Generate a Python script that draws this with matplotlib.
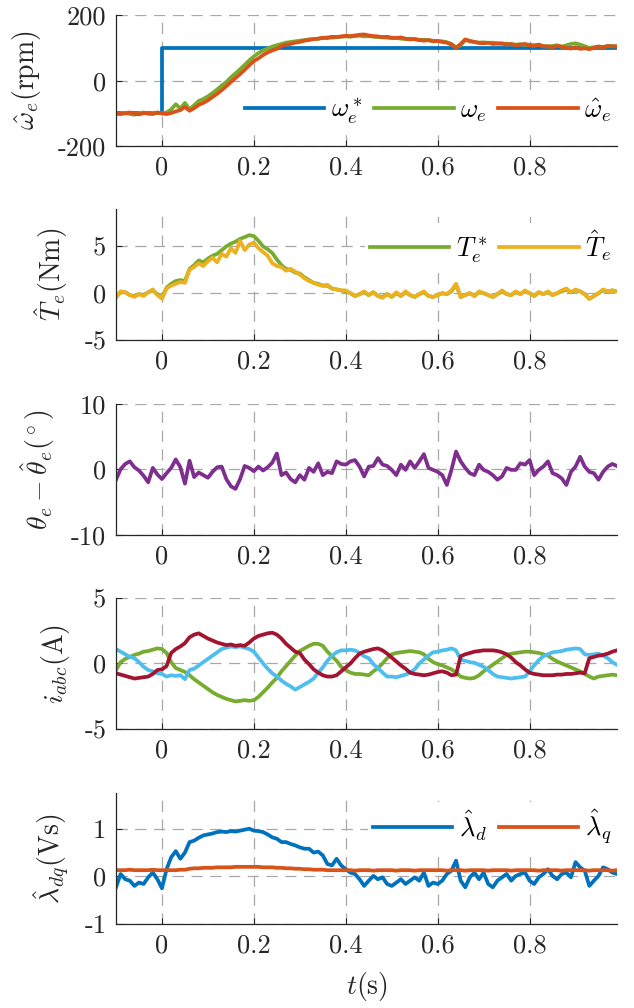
import numpy as np
import matplotlib
matplotlib.use('Agg')
import matplotlib.pyplot as plt

plt.rcParams['font.family'] = 'serif'
plt.rcParams['font.serif'] = ['cmr10']
plt.rcParams['mathtext.fontset'] = 'cm'
plt.rcParams['axes.unicode_minus'] = False
plt.rcParams['axes.formatter.use_mathtext'] = True

# MATLAB default colour order
C_BLUE   = '#0072BD'
C_ORANGE = '#D95319'
C_YELLOW = '#EDB120'
C_PURPLE = '#7E2F8E'
C_GREEN  = '#77AC30'
C_CYAN   = '#4DBEEE'
C_RED    = '#A2142F'
TXT      = '#262626'

# ─────────────────────────────────────────
# DATA  (sample times -0.10 ... 0.99 s, step 0.01)
# ─────────────────────────────────────────
t = np.round(np.arange(-0.10, 0.995, 0.01), 2)

# speed reference step
w_ref_t = [-0.10, 0.0, 0.0, 0.99]
w_ref   = [-100, -100, 100, 100]

w_meas = [-103, -100, -98, -102, -104, -100, -97, -101, -99, -98,
          -100, -97, -88, -72, -85, -68, -88, -75, -62, -56,
          -48, -38, -27, -15, -4, 10, 22, 35, 48, 62,
          74, 84, 92, 98, 104, 108, 112, 116, 118, 120,
          122, 124, 126, 127, 128, 130, 132, 131, 133, 134,
          135, 134, 136, 137, 135, 136, 134, 133, 132, 131,
          130, 131, 128, 127, 128, 126, 124, 125, 123, 122,
          121, 120, 117, 112, 102, 108, 124, 122, 118, 116,
          117, 115, 116, 114, 112, 113, 111, 110, 111, 109,
          110, 108, 109, 106, 104, 106, 108, 103, 108, 112,
          114, 110, 105, 100, 102, 104, 103, 105, 106, 104]

w_est = [-98, -102, -100, -97, -101, -103, -99, -100, -102, -97,
         -100, -102, -99, -94, -90, -80, -92, -84, -74, -68,
         -60, -50, -40, -29, -17, -4, 8, 20, 33, 47,
         60, 68, 78, 86, 92, 97, 106, 110, 112, 116,
         118, 122, 124, 127, 128, 131, 130, 134, 133, 135,
         137, 136, 138, 140, 141, 138, 136, 135, 133, 134,
         131, 130, 132, 128, 126, 127, 124, 122, 124, 120,
         121, 118, 116, 110, 100, 112, 126, 120, 118, 115,
         114, 116, 112, 113, 114, 110, 112, 108, 110, 112,
         108, 106, 110, 104, 105, 102, 106, 104, 100, 98,
         102, 97, 99, 96, 100, 104, 102, 106, 104, 105]

T_ref = [-0.4, 0.1, 0.1, -0.2, -0.3, -0.1, -0.2, 0.1, 0.3, -0.1,
         -0.5, 0.6, 1.0, 1.3, 1.4, 1.3, 2.6, 3.0, 3.5, 3.3,
         3.7, 4.0, 4.2, 4.6, 5.0, 5.3, 5.5, 5.8, 6.0, 6.2,
         6.1, 5.6, 5.0, 4.7, 4.3, 3.6, 3.0, 2.6, 2.5, 2.2,
         2.1, 1.7, 1.4, 1.1, 1.0, 0.8, 0.8, 0.5, 0.4, 0.3,
         0.2, 0.0, -0.3, -0.1, 0.1, -0.2, 0.1, -0.3, -0.4, -0.1,
         -0.4, 0.0, -0.3, 0.1, -0.2, -0.4, -0.1, 0.1, -0.3, -0.4,
         -0.2, 0.0, -0.1, 0.2, 0.9, -0.4, -0.2, 0.0, -0.3, 0.1,
         0.0, -0.2, -0.4, -0.1, 0.2, -0.1, -0.2, 0.1, -0.1, 0.2,
         0.0, -0.3, 0.1, -0.1, 0.1, -0.2, 0.0, 0.2, 0.4, 0.1,
         0.3, 0.2, -0.1, -0.6, -0.3, 0.0, 0.3, 0.2, 0.3, 0.2]

T_est = [-0.5, 0.2, 0.1, -0.2, -0.4, -0.1, -0.3, 0.1, 0.4, -0.2,
         -0.6, 0.5, 0.8, 1.0, 1.2, 1.1, 2.5, 2.8, 3.2, 2.9,
         3.4, 3.8, 3.3, 4.2, 3.9, 4.8, 4.3, 5.6, 4.6, 5.2,
         5.4, 4.8, 4.4, 4.0, 3.2, 2.9, 2.8, 2.4, 2.6, 2.3,
         2.0, 1.6, 1.3, 1.1, 0.9, 0.8, 0.9, 0.5, 0.4, 0.3,
         0.3, 0.0, -0.3, -0.1, 0.2, -0.2, 0.1, -0.3, -0.5, -0.1,
         -0.4, 0.1, -0.3, 0.2, -0.2, -0.4, -0.1, 0.2, -0.3, -0.4,
         -0.2, 0.0, -0.1, 0.3, 1.0, -0.4, -0.2, 0.0, -0.3, 0.2,
         0.0, -0.2, -0.4, -0.1, 0.3, -0.1, -0.2, 0.2, -0.1, 0.3,
         0.0, -0.3, 0.1, -0.1, 0.2, -0.2, 0.0, 0.3, 0.5, 0.1,
         0.4, 0.2, -0.1, -0.6, -0.3, 0.0, 0.4, 0.2, 0.3, 0.2]

theta_err = [-1.6, 0.0, 0.8, 1.2, 0.3, -0.2, -1.0, -2.0, 0.2, -0.8,
             -1.5, -0.6, 0.2, 1.5, 0.3, -2.2, 1.3, -1.2, -0.5, -0.9,
             -1.3, -0.4, 0.3, 0.4, -1.5, -2.6, -3.0, -1.5, 0.5, 0.2,
             -0.3, 0.4, -0.2, 0.3, 1.0, 2.4, -0.9, -0.5, -1.5, -2.0,
             -0.9, -1.6, 0.2, -0.4, 0.9, -0.9, -0.4, -0.6, 1.2, 0.8,
             0.7, 1.2, 1.4, 0.4, -1.1, 0.4, 0.5, 1.7, 0.7, 0.5,
             -0.1, -0.9, 0.7, -0.1, 1.2, 0.2, 1.2, 2.3, 0.2, -0.1,
             -0.4, -0.9, -2.4, -0.1, 2.7, 1.2, 0.2, -0.6, -0.9, 0.7,
             -0.1, -0.4, -0.9, -1.6, -1.1, 0.2, -0.1, -0.1, 0.9, 0.7,
             1.4, -0.9, -0.1, 0.4, 1.2, -0.6, -0.9, -1.4, -2.4, -0.4,
             0.4, 1.9, 0.4, -0.4, -0.6, -1.6, -0.4, 0.4, 0.8, 0.5]

i_a = [-0.5, 0.1, 0.35, 0.5, 0.65, 0.75, 0.9, 0.95, 1.05, 1.15,
       1.1, 0.8, 0.1, -0.35, -0.5, -0.65, -0.9, -1.2, -1.45, -1.7,
       -1.95, -2.2, -2.4, -2.55, -2.7, -2.8, -2.9, -2.85, -2.8, -2.85,
       -2.8, -2.55, -2.2, -1.85, -1.45, -1.1, -0.6, -0.2, 0.2, 0.6,
       0.95, 1.15, 1.35, 1.5, 1.5, 1.35, 0.9, 0.55, 0.2, -0.25,
       -0.5, -0.7, -0.8, -0.8, -0.85, -0.9, -0.6, -0.35, 0.0, 0.4,
       0.7, 0.8, 0.85, 0.9, 0.95, 0.9, 0.85, 0.7, 0.35, 0.1,
       -0.05, -0.15, -0.3, -0.45, -0.7, -1.0, -1.1, -1.15, -1.1, -0.9,
       -0.6, -0.35, -0.1, 0.15, 0.4, 0.65, 0.75, 0.8, 0.85, 0.9,
       0.9, 0.85, 0.8, 0.7, 0.6, 0.35, 0.15, 0.0, -0.15, -0.3,
       -0.45, -0.6, -0.8, -1.0, -1.15, -1.0, -0.95, -0.9, -0.85, -0.9]

i_b = [1.1, 0.9, 0.7, 0.5, 0.4, 0.1, -0.25, -0.5, -0.6, -0.75,
       -0.8, -1.0, -0.9, -0.95, -0.9, -1.2, -0.5, -0.4, -0.15, 0.1,
       0.35, 0.6, 0.85, 1.1, 1.2, 1.3, 1.25, 1.3, 1.2, 1.1,
       0.9, 0.45, 0.0, -0.4, -0.75, -1.0, -1.3, -1.55, -1.75, -2.0,
       -1.8, -1.6, -1.4, -1.15, -0.7, -0.3, 0.2, 0.6, 0.85, 1.0,
       1.0, 1.05, 1.0, 0.8, 0.55, 0.4, -0.05, -0.35, -0.7, -1.0,
       -1.0, -1.05, -0.95, -0.85, -0.7, -0.45, 0.0, 0.3, 0.6, 0.85,
       0.9, 1.0, 1.05, 1.15, 1.0, 0.3, 0.2, 0.1, 0.05, -0.1,
       -0.25, -0.5, -0.8, -1.0, -1.05, -1.1, -1.15, -1.1, -1.05, -1.0,
       -0.6, -0.15, 0.25, 0.55, 0.7, 0.85, 0.9, 0.95, 1.05, 1.1,
       1.15, 1.1, 0.7, 0.65, 0.7, 0.75, 0.6, 0.4, 0.1, -0.1]

i_c = [-0.75, -0.85, -0.95, -1.05, -1.15, -1.1, -1.05, -1.0, -0.8, -0.5,
       -0.45, -0.2, 0.8, 1.1, 1.3, 1.55, 2.0, 2.2, 2.3, 2.1,
       1.9, 1.75, 1.6, 1.5, 1.4, 1.45, 1.35, 1.4, 1.35, 1.6,
       1.9, 2.1, 2.2, 2.3, 2.35, 2.2, 1.9, 1.5, 1.2, 0.9,
       0.8, 0.3, -0.05, -0.45, -0.7, -0.9, -1.0, -1.0, -0.9, -0.6,
       -0.3, 0.0, 0.4, 0.75, 0.9, 1.0, 1.1, 1.15, 1.0, 0.75,
       0.45, 0.15, -0.15, -0.4, -0.7, -0.8, -0.85, -0.9, -0.85, -0.75,
       -0.65, -0.6, -0.7, -0.9, -0.85, 0.55, 0.7, 0.8, 0.9, 0.95,
       1.0, 1.0, 1.0, 0.95, 0.85, 0.7, 0.45, 0.1, -0.15, -0.45,
       -0.7, -0.8, -0.85, -0.9, -0.9, -0.9, -0.85, -0.85, -0.8, -0.8,
       -0.75, -0.7, -0.75, 0.4, 0.5, 0.6, 0.65, 0.75, 0.9, 1.0]

lam_d = [-0.23, 0.05, -0.06, -0.09, -0.2, -0.13, -0.16, -0.02, 0.08, -0.06,
         -0.25, 0.15, 0.4, 0.53, 0.37, 0.5, 0.72, 0.75, 0.81, 0.86,
         0.88, 0.9, 0.93, 0.94, 0.93, 0.95, 0.94, 0.96, 0.98, 1.0,
         0.96, 0.95, 0.93, 0.88, 0.82, 0.79, 0.72, 0.72, 0.68, 0.65,
         0.61, 0.58, 0.58, 0.5, 0.52, 0.44, 0.26, 0.23, 0.37, 0.23,
         0.15, 0.08, 0.05, -0.06, -0.2, -0.09, 0.01, -0.06, -0.02, -0.16,
         -0.2, -0.13, -0.06, -0.16, -0.09, -0.02, -0.09, 0.08, -0.2, -0.13,
         -0.16, -0.09, 0.05, 0.12, 0.33, -0.09, -0.23, -0.02, 0.08, -0.06,
         0.08, -0.16, -0.23, -0.09, -0.02, 0.05, -0.09, 0.01, 0.05, 0.08,
         -0.09, -0.16, -0.02, 0.05, 0.15, 0.01, -0.06, 0.05, 0.08, -0.02,
         0.3, 0.19, 0.12, -0.2, -0.09, 0.01, 0.19, 0.15, 0.08, 0.05]

lam_q = [0.13, 0.13, 0.13, 0.14, 0.13, 0.13, 0.13, 0.13, 0.14, 0.13,
         0.13, 0.13, 0.13, 0.13, 0.14, 0.14, 0.16, 0.17, 0.17, 0.18,
         0.18, 0.18, 0.19, 0.19, 0.19, 0.19, 0.20, 0.20, 0.20, 0.20,
         0.20, 0.20, 0.19, 0.19, 0.19, 0.18, 0.18, 0.17, 0.17, 0.16,
         0.16, 0.15, 0.15, 0.14, 0.14, 0.14, 0.13, 0.13, 0.13, 0.13,
         0.13, 0.13, 0.12, 0.13, 0.13, 0.13, 0.12, 0.13, 0.13, 0.13,
         0.13, 0.12, 0.13, 0.13, 0.13, 0.12, 0.13, 0.13, 0.13, 0.13,
         0.13, 0.13, 0.12, 0.13, 0.13, 0.13, 0.12, 0.13, 0.13, 0.13,
         0.13, 0.12, 0.13, 0.13, 0.13, 0.13, 0.12, 0.13, 0.13, 0.13,
         0.13, 0.13, 0.12, 0.13, 0.13, 0.13, 0.13, 0.12, 0.13, 0.13,
         0.13, 0.13, 0.13, 0.12, 0.13, 0.13, 0.13, 0.13, 0.12, 0.13]

x_ticks = [0, 0.2, 0.4, 0.6, 0.8]
x_tick_labels = ['0', '0.2', '0.4', '0.6', '0.8']

# ─────────────────────────────────────────
# FIGURE
# ─────────────────────────────────────────
fig = plt.figure(figsize=(6.34, 10.08), dpi=100)
left, width, height = 0.183, 0.790, 0.130
bottoms = [0.855, 0.6627, 0.4695, 0.2768, 0.0833]
axes = [fig.add_axes([left, b, width, height]) for b in bottoms]

LW = 2.7
FS = 19


def style(ax, ylim, yticks, ylabels, ylabel, label_x):
    ax.set_xlim(-0.1, 0.99)
    ax.set_ylim(*ylim)
    ax.set_xticks(x_ticks)
    ax.set_xticklabels(x_tick_labels)
    ax.set_yticks(yticks)
    ax.set_yticklabels(ylabels)
    ax.set_axisbelow(True)
    ax.grid(True, linestyle=(0, (9, 6)), color='#a8a8a8', linewidth=0.9)
    for s in ['top', 'right']:
        ax.spines[s].set_visible(False)
    for s in ['left', 'bottom']:
        ax.spines[s].set_color(TXT)
        ax.spines[s].set_linewidth(0.9)
    ax.tick_params(direction='in', length=4, width=0.8, colors=TXT,
                   labelsize=FS, pad=7)
    ax.set_ylabel(ylabel, fontsize=20, color=TXT)
    ax.yaxis.set_label_coords(label_x, 0.5)


def legend(ax, y, ncol):
    ax.legend(loc='center right', bbox_to_anchor=(1.0, y), ncol=ncol,
              frameon=True, fancybox=False, edgecolor='none',
              facecolor='white', framealpha=1, fontsize=FS,
              handlelength=3.0, handletextpad=0.25, columnspacing=0.45,
              borderpad=0.2, borderaxespad=0)


# 1. speed
ax = axes[0]
ax.plot(w_ref_t, w_ref, color=C_BLUE, lw=LW, label=r'$\omega_e^*$')
ax.plot(t, w_meas, color=C_GREEN, lw=LW, label=r'$\omega_e$')
ax.plot(t, w_est, color=C_ORANGE, lw=LW, label=r'$\hat{\omega}_e$')
style(ax, (-200, 200), [-200, 0, 200], ['-200', '0', '200'],
      r'$\hat{\omega}_e(\mathrm{rpm})$', -0.146)
legend(ax, 0.27, 3)

# 2. torque
ax = axes[1]
ax.plot(t, T_ref, color=C_GREEN, lw=LW, label=r'$T_e^*$')
ax.plot(t, T_est, color=C_YELLOW, lw=LW, label=r'$\hat{T}_e$')
style(ax, (-5, 9), [-5, 0, 5], ['-5', '0', '5'],
      r'$\hat{T}_e(\mathrm{Nm})$', -0.092)
legend(ax, 0.712, 2)

# 3. position error
ax = axes[2]
ax.plot(t, theta_err, color=C_PURPLE, lw=LW)
style(ax, (-10, 10), [-10, 0, 10], ['-10', '0', '10'],
      r'$\theta_e-\hat{\theta}_e(^\circ)$', -0.118)

# 4. phase currents
ax = axes[3]
ax.plot(t, i_a, color=C_GREEN, lw=LW)
ax.plot(t, i_b, color=C_CYAN, lw=LW)
ax.plot(t, i_c, color=C_RED, lw=LW)
style(ax, (-5, 5), [-5, 0, 5], ['-5', '0', '5'],
      r'$i_{abc}(\mathrm{A})$', -0.088)

# 5. flux
ax = axes[4]
ax.plot(t, lam_d, color=C_BLUE, lw=LW, label=r'$\hat{\lambda}_d$')
ax.plot(t, lam_q, color=C_ORANGE, lw=LW, label=r'$\hat{\lambda}_q$')
style(ax, (-1, 1.75), [-1, 0, 1], ['-1', '0', '1'],
      r'$\hat{\lambda}_{dq}(\mathrm{Vs})$', -0.088)
legend(ax, 0.738, 2)
ax.set_xlabel(r'$t(\mathrm{s})$', fontsize=20, color=TXT, labelpad=9)

fig.savefig('out.png', dpi=100)
